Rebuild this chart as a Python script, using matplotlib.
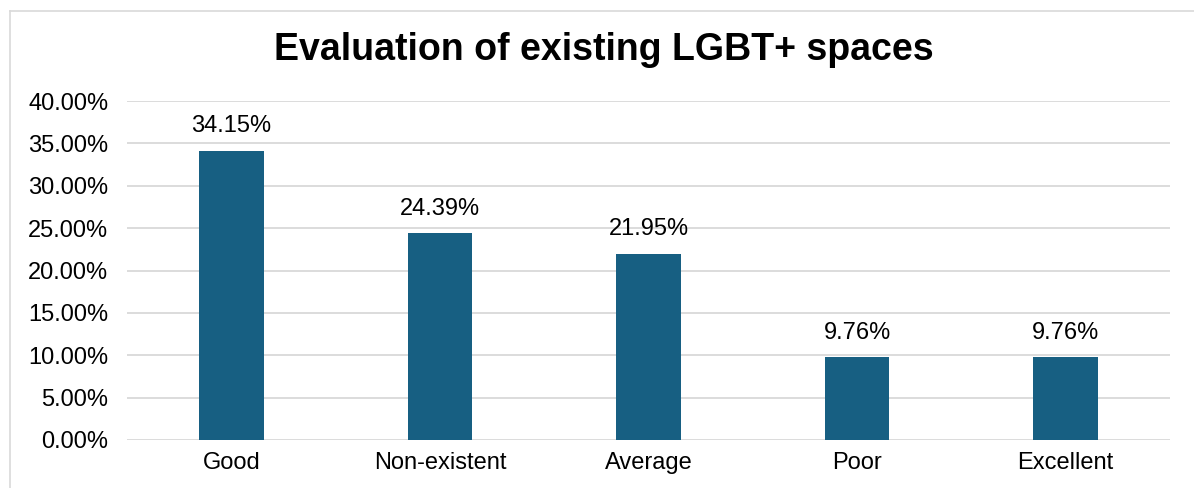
"""
Bar chart: evaluation of existing LGBT+ spaces.
"""

import matplotlib.pyplot as plt
from matplotlib.lines import Line2D
from matplotlib.ticker import FuncFormatter

# Survey results
categories = ["Good", "Non-existent", "Average", "Poor", "Excellent"]
shares = [34.15, 24.39, 21.95, 9.76, 9.76]
y_ticks = [0, 5, 10, 15, 20, 25, 30, 35, 40]

BAR_COLOR = "#175f82"
GRID_COLOR = "#d9d9d9"
LABEL_SIZE = 17

plt.rcParams["font.family"] = ["Liberation Sans", "DejaVu Sans"]

fig = plt.figure(figsize=(11.94, 4.88), dpi=100)
ax = fig.add_axes([127 / 1194, 1 - 440 / 488, (1170 - 127) / 1194, (440 - 101) / 488])

x = range(len(categories))
ax.bar(x, shares, width=0.31, color=BAR_COLOR, zorder=3)

for xi, val in zip(x, shares):
    ax.annotate(
        f"{val:.2f}%",
        xy=(xi, val),
        xytext=(0, 13.5),
        textcoords="offset points",
        ha="center",
        va="baseline",
        fontsize=LABEL_SIZE,
    )

ax.set_xlim(-0.5, len(categories) - 0.5)
ax.set_ylim(0, 40)
ax.set_yticks(y_ticks)
ax.yaxis.set_major_formatter(FuncFormatter(lambda v, _: f"{v:.2f}%"))
ax.set_xticks(list(x))
ax.set_xticklabels(categories)

ax.grid(axis="y", color=GRID_COLOR, linewidth=1.3, zorder=0)
ax.tick_params(axis="both", length=0, labelsize=LABEL_SIZE)
ax.tick_params(axis="y", pad=13.5)
ax.tick_params(axis="x", pad=8.5)
for spine in ax.spines.values():
    spine.set_visible(False)

fig.text(604 / 1194, 1 - 60 / 488, "Evaluation of existing LGBT+ spaces",
         ha="center", va="baseline", fontsize=27, fontweight="bold")

# Chart area outline (left and top edges)
fig.add_artist(Line2D([10 / 1194, 10 / 1194], [0, 1 - 11 / 488],
                      transform=fig.transFigure, color=GRID_COLOR, linewidth=1.2))
fig.add_artist(Line2D([10 / 1194, 1], [1 - 11 / 488, 1 - 11 / 488],
                      transform=fig.transFigure, color=GRID_COLOR, linewidth=1.2))

fig.savefig("out.png", dpi=100)
plt.close(fig)
